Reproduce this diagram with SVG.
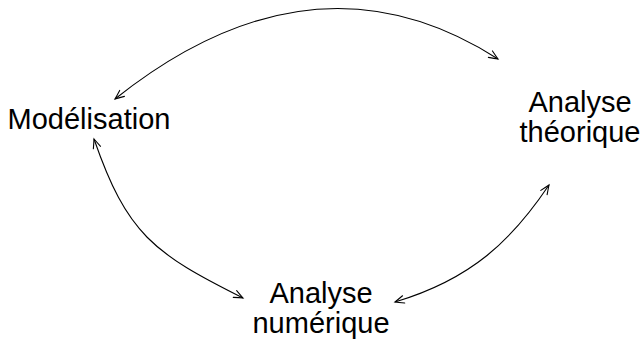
<svg xmlns="http://www.w3.org/2000/svg" width="642" height="345" viewBox="0 0 642 345">
  <style>
    .lbl { font-family: "Liberation Sans", Arial, sans-serif; font-size: 29px; fill: #000; text-anchor: middle; }
    .edge { fill: none; stroke: #000; stroke-width: 1.1; marker-start: url(#arr); marker-end: url(#arr); }
  </style>
  <defs>
    <marker id="arr" markerUnits="userSpaceOnUse" markerWidth="14" markerHeight="12" viewBox="-10 -6 12 12" refX="0" refY="0" orient="auto-start-reverse" overflow="visible">
      <path d="M -9,-3.8 Q -3,-1.2 0,0 Q -3,1.2 -9,3.8" fill="none" stroke="#000" stroke-width="1.1" stroke-linecap="round"/>
    </marker>
  </defs>
  <rect width="642" height="345" fill="#fff"/>
  <g id="connectors">
    <path class="edge" d="M 115,99 Q 313.5,-59 498,59"/>
    <path class="edge" d="M 94,139 C 127,234 153,253 243,298"/>
    <path class="edge" d="M 395,302 C 472,279 512,240 549,185"/>
  </g>
  <g id="modelisation">
    <text class="lbl" x="89" y="129">Modélisation</text>
  </g>
  <g id="analyse-theorique">
    <text class="lbl" x="580" y="111.5">Analyse</text>
    <text class="lbl" x="580" y="142">théorique</text>
  </g>
  <g id="analyse-numerique">
    <text class="lbl" x="321" y="302.5">Analyse</text>
    <text class="lbl" x="321" y="333">numérique</text>
  </g>
</svg>
